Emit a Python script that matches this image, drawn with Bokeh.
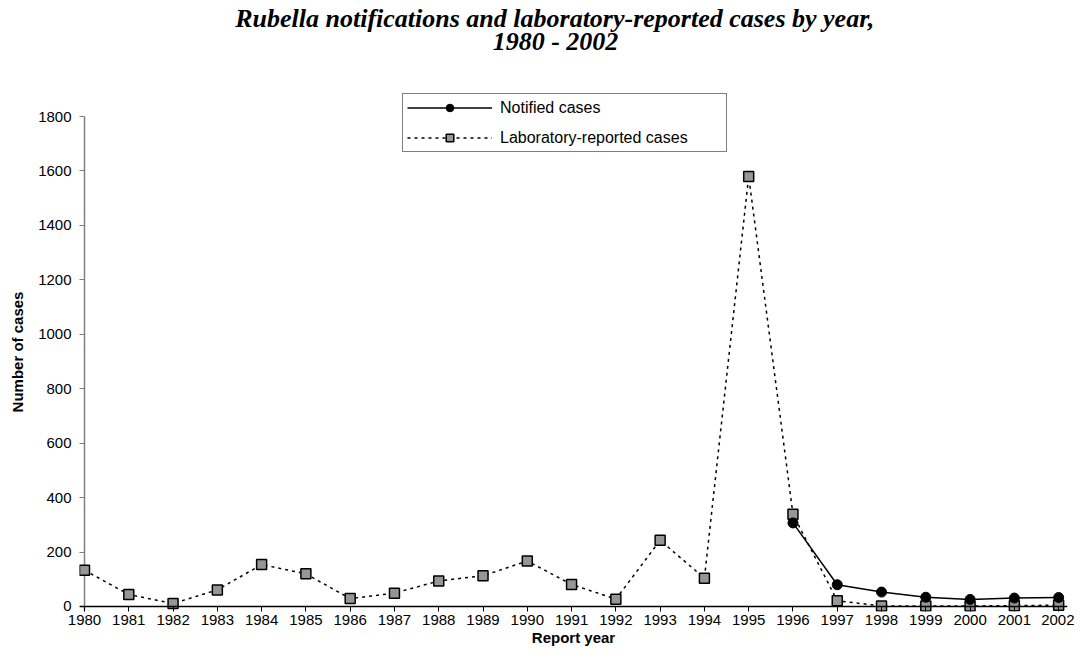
from bokeh.plotting import figure
from bokeh.models import Range1d, Span, Legend, LegendItem, Title, FixedTicker
from bokeh.embed import file_html
from bokeh.resources import INLINE

# ---- data ----
years = list(range(1980, 2003))
lab_cases = [133, 44, 11, 61, 154, 120, 29, 49, 94, 113, 167, 81, 27,
             243, 104, 1580, 339, 21, 2, 2, 2, 3, 5]
notified_years = [1996, 1997, 1998, 1999, 2000, 2001, 2002]
notified_cases = [307, 80, 53, 34, 26, 31, 33]
y_ticks = [0, 200, 400, 600, 800, 1000, 1200, 1400, 1600, 1800]

title_line1 = "Rubella notifications and laboratory-reported cases by year,"
title_line2 = "1980 - 2002"

SANS = "Liberation Sans"
SERIF = "Liberation Serif"

Y0 = -18.37          # a few px below zero so markers on zero are not clipped
Y1 = 1888.2          # headroom above 1800 so the legend box is inside the frame

p = figure(width=1074, height=650, output_backend="svg", toolbar_location=None,
           title=None,
           x_range=Range1d(years[0] - 0.113, years[-1] + 0.2),
           y_range=Range1d(Y0, Y1),
           min_border_left=79, min_border_right=7,
           min_border_top=92, min_border_bottom=39)

p.xgrid.visible = False
p.ygrid.visible = False
p.outline_line_color = None
p.background_fill_color = "white"

# x axis
xa = p.xaxis[0]
xa.ticker = FixedTicker(ticks=years)
xa.axis_line_color = None
xa.major_tick_in = 5
xa.major_tick_out = 0
xa.major_tick_line_color = "black"
xa.major_tick_line_width = 1
xa.minor_tick_line_color = None
xa.major_label_standoff = 3
xa.major_label_text_font = SANS
xa.major_label_text_font_size = "15px"
xa.major_label_text_color = "black"
xa.axis_label = "Report year"
xa.axis_label_text_font = SANS
xa.axis_label_text_font_style = "bold"
xa.axis_label_text_font_size = "15px"
xa.axis_label_text_color = "black"
xa.axis_label_standoff = 1

# y axis
ya = p.yaxis[0]
ya.ticker = FixedTicker(ticks=y_ticks)
ya.axis_line_color = None
ya.major_tick_in = 5
ya.major_tick_out = 0
ya.major_tick_line_color = "#808080"
ya.minor_tick_line_color = None
ya.major_label_standoff = 8
ya.major_label_text_font = SANS
ya.major_label_text_font_size = "15px"
ya.major_label_text_color = "black"
ya.axis_label = "Number of cases"
ya.axis_label_text_font = SANS
ya.axis_label_text_font_style = "bold"
ya.axis_label_text_font_size = "15px"
ya.axis_label_text_color = "black"
ya.axis_label_standoff = 9

# axis lines: grey value axis from the bottom up to the top tick, black category axis at zero
p.segment(x0=[years[0]], y0=[Y0], x1=[years[0]], y1=[y_ticks[-1]],
          line_color="#808080", line_width=1.5)
p.add_layout(Span(location=0, dimension="width", line_color="black", line_width=1.5))

# series
lab_line = p.line(years, lab_cases, line_color="black", line_width=1.5, line_dash="3 4")
lab_pts = p.scatter(years, lab_cases, marker="square", size=10, fill_color="#969696",
                    line_color="black", line_width=1.5)
not_line = p.line(notified_years, notified_cases, line_color="black", line_width=1.5)
not_pts = p.scatter(notified_years, notified_cases, marker="circle", size=10,
                    fill_color="black", line_color="black")

legend = Legend(items=[
    LegendItem(label="Notified cases", renderers=[not_line, not_pts]),
    LegendItem(label="Laboratory-reported cases", renderers=[lab_line, lab_pts]),
], location=(323, 459), padding=4, glyph_width=85, glyph_height=19, spacing=11,
    label_standoff=8, label_width=222, label_height=19,
    border_line_color="black", border_line_width=1,
    background_fill_color="white", background_fill_alpha=1.0,
    label_text_font=SANS, label_text_font_size="16px", label_text_color="black",
    margin=0)
p.add_layout(legend, "center")

# two-line title, left-aligned with offsets so that both lines centre on the same x
TITLE_PX = 26
center_x = 555 - 79
w1 = 24.64 * TITLE_PX
w2 = 4.833 * TITLE_PX
spacer = Title(text=" ", text_font_size="1px", standoff=40)
t2 = Title(text=title_line2, align="left", offset=center_x - w2 / 2, text_font=SERIF,
           text_font_style="bold italic", text_font_size=f"{TITLE_PX}px",
           text_color="black", standoff=-12)
t1 = Title(text=title_line1, align="left", offset=center_x - w1 / 2, text_font=SERIF,
           text_font_style="bold italic", text_font_size=f"{TITLE_PX}px",
           text_color="black", standoff=-4)
p.add_layout(spacer, "above")
p.add_layout(t2, "above")
p.add_layout(t1, "above")

open("out.html", "w").write(file_html(p, INLINE))
